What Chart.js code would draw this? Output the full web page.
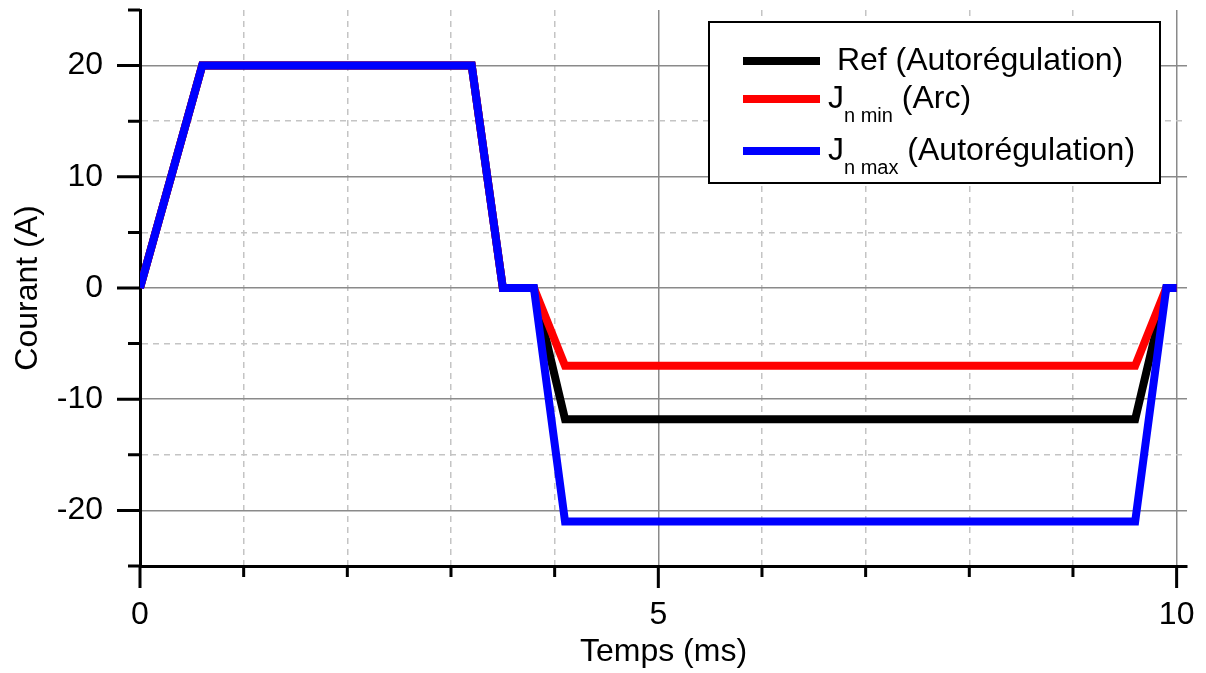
<!DOCTYPE html>
<html>
<head>
<meta charset="utf-8">
<script src="https://cdn.jsdelivr.net/npm/chart.js@4.4.1/dist/chart.umd.min.js"></script>
<style>
  html, body { margin: 0; padding: 0; background: #fff; }
  #wrap { width: 1206px; height: 673px; }
</style>
</head>
<body>
<div id="wrap"><canvas id="chart"></canvas></div>
<script>
// values
const times = [0, 0.6, 3.2, 3.5, 3.8, 4.1, 9.6, 9.9, 10];
const refCurrent = [0, 20, 20, 0, 0, -11.8, -11.8, 0, 0];
const jMinCurrent = [0, 20, 20, 0, 0, -7, -7, 0, 0];
const jMaxCurrent = [0, 20, 20, 0, 0, -21, -21, 0, 0];

const xTicks = [0, 1, 2, 3, 4, 5, 6, 7, 8, 9, 10];
const yTicks = [-25, -20, -15, -10, -5, 0, 5, 10, 15, 20, 25];

const legendNames = [" Ref (Autorégulation)", "J", "J"];
const legendSubs = ["", "n min", "n max"];
const legendTails = ["", " (Arc)", " (Autorégulation)"];

const FONT = "'Liberation Sans', Arial, Helvetica, sans-serif";
const FS = 32;

const toPoints = (vals) => vals.map((v, i) => ({ x: times[i], y: v }));

// ticks: long on major, short on minor
const tickMarks = {
  id: "tickMarks",
  afterDraw(chart) {
    const { ctx, chartArea, scales } = chart;
    ctx.save();
    ctx.strokeStyle = "#000";
    ctx.lineWidth = 3;
    ctx.beginPath();
    xTicks.forEach(v => {
      const px = scales.x.getPixelForValue(v);
      const len = v % 5 === 0 ? 22 : 11;
      ctx.moveTo(px, chartArea.bottom);
      ctx.lineTo(px, chartArea.bottom + len);
    });
    yTicks.forEach(v => {
      const py = scales.y.getPixelForValue(v);
      const len = v % 10 === 0 && Math.abs(v) < 25 ? 23 : 12;
      ctx.moveTo(chartArea.left, py);
      ctx.lineTo(chartArea.left - len, py);
    });
    ctx.stroke();
    ctx.restore();
  }
};

// boxed legend with subscripts
const boxLegend = {
  id: "boxLegend",
  afterDraw(chart) {
    const { ctx } = chart;
    const rows = [61, 99, 151];
    ctx.save();
    ctx.fillStyle = "#fff";
    ctx.fillRect(709, 22, 451, 161);
    ctx.strokeStyle = "#000";
    ctx.lineWidth = 2;
    ctx.strokeRect(709, 22, 451, 161);
    ctx.textBaseline = "middle";
    chart.data.datasets.slice().sort((a, b) => a.legendIndex - b.legendIndex).forEach((ds, i) => {
      const y = rows[i];
      ctx.strokeStyle = ds.borderColor;
      ctx.lineWidth = 8;
      ctx.beginPath();
      ctx.moveTo(743, y);
      ctx.lineTo(820, y);
      ctx.stroke();
      ctx.fillStyle = "#000";
      ctx.font = FS + "px " + FONT;
      let tx = 828;
      ctx.fillText(legendNames[i], tx, y);
      tx += ctx.measureText(legendNames[i]).width;
      if (legendSubs[i]) {
        ctx.font = "20px " + FONT;
        ctx.fillText(legendSubs[i], tx, y + 17);
        tx += ctx.measureText(legendSubs[i]).width;
        ctx.font = FS + "px " + FONT;
        ctx.fillText(legendTails[i], tx, y);
      }
    });
    ctx.restore();
  }
};

const isMajorX = v => v % 5 === 0;
const isMajorY = v => v % 10 === 0;

new Chart(document.getElementById("chart"), {
  type: "line",
  data: {
    datasets: [
      { label: "Jmax", legendIndex: 2, data: toPoints(jMaxCurrent), borderColor: "#0000ff", order: 0 },
      { label: "Jmin", legendIndex: 1, data: toPoints(jMinCurrent), borderColor: "#ff0000", order: 1 },
      { label: "Ref", legendIndex: 0, data: toPoints(refCurrent), borderColor: "#000000", order: 2 }
    ]
  },
  options: {
    responsive: true,
    maintainAspectRatio: false,
    animation: false,
    layout: { padding: { top: 10, right: 19, left: 0, bottom: 0 } },
    elements: {
      point: { radius: 0 },
      line: { borderWidth: 8, tension: 0, fill: false, borderJoinStyle: "miter" }
    },
    plugins: { legend: { display: false }, tooltip: { enabled: false } },
    scales: {
      x: {
        type: "linear",
        min: 0,
        max: 10.1,
        afterBuildTicks: s => { s.ticks = xTicks.map(v => ({ value: v })); },
        afterFit: s => { s.height = 107; s.paddingLeft = 0; s.paddingRight = 0; },
        ticks: {
          autoSkip: false,
          maxRotation: 0,
          padding: 30,
          color: "#000",
          font: { family: FONT, size: FS },
          callback: v => (isMajorX(v) ? String(v) : "")
        },
        grid: {
          drawTicks: false,
          lineWidth: 1.5,
          color: c => (c.tick && c.tick.value === 0 ? "rgba(0,0,0,0)" : (c.tick && isMajorX(c.tick.value) ? "#8a8a8a" : "#c4c4c4"))
        },
        border: {
          display: true,
          color: "#000",
          width: 3,
          dash: c => (c.tick && !isMajorX(c.tick.value) ? [6, 5] : [])
        },
        title: {
          display: true,
          text: "Temps (ms)",
          color: "#000",
          font: { family: FONT, size: FS },
          padding: { top: 2, bottom: 2 }
        }
      },
      y: {
        type: "linear",
        min: -25,
        max: 25,
        afterBuildTicks: s => { s.ticks = yTicks.map(v => ({ value: v })); },
        afterFit: s => { s.width = 140; s.paddingTop = 0; s.paddingBottom = 0; },
        ticks: {
          autoSkip: false,
          padding: 37,
          color: "#000",
          font: { family: FONT, size: FS },
          callback: v => (isMajorY(v) && Math.abs(v) < 25 ? String(v) : "")
        },
        grid: {
          drawTicks: false,
          lineWidth: 1.5,
          color: c => (c.tick && Math.abs(c.tick.value) === 25 ? "rgba(0,0,0,0)" : (c.tick && isMajorY(c.tick.value) ? "#8a8a8a" : "#c4c4c4"))
        },
        border: {
          display: true,
          color: "#000",
          width: 3,
          dash: c => (c.tick && !isMajorY(c.tick.value) ? [6, 5] : [])
        },
        title: {
          display: true,
          text: "Courant (A)",
          color: "#000",
          font: { family: FONT, size: FS },
          padding: { top: 9, bottom: 9 }
        }
      }
    }
  },
  plugins: [tickMarks, boxLegend]
});
</script>
</body>
</html>
